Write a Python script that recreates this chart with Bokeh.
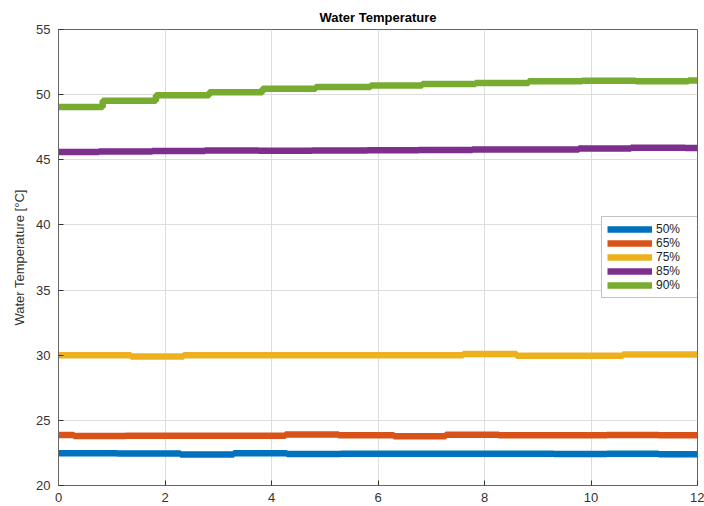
from bokeh.plotting import figure
from bokeh.models import Range1d, SingleIntervalTicker, Legend
from bokeh.embed import file_html
from bokeh.resources import INLINE

# --- data (step series: breakpoints and held values) ---
labels = ["50%", "65%", "75%", "85%", "90%"]
colors = ["#0072BD", "#D95319", "#EDB120", "#7E2F8E", "#77AC30"]

x50 = [0, 1.10, 2.29, 3.29, 4.29, 5.30, 6.30, 7.27, 8.27, 9.30, 10.30, 11.27, 12]
y50 = [22.47, 22.45, 22.38, 22.47, 22.41, 22.43, 22.44, 22.44, 22.44, 22.42, 22.44, 22.40, 22.40]

x65 = [0, 0.29, 1.26, 2.26, 4.26, 5.26, 6.30, 7.27, 8.27, 9.30, 10.30, 11.27, 12]
y65 = [23.88, 23.80, 23.82, 23.82, 23.92, 23.85, 23.78, 23.90, 23.86, 23.85, 23.88, 23.86, 23.86]

x75 = [0, 1.36, 2.35, 7.60, 8.60, 10.60, 12]
y75 = [30.00, 29.90, 30.00, 30.10, 29.95, 30.05, 30.05]

x85 = [0, 0.76, 1.76, 2.75, 3.76, 4.76, 5.80, 6.76, 7.77, 8.75, 9.77, 10.75, 11.77, 12]
y85 = [45.60, 45.63, 45.67, 45.71, 45.70, 45.72, 45.73, 45.76, 45.78, 45.78, 45.87, 45.93, 45.90, 45.90]

x90 = [0, 0.83, 1.83, 2.83, 3.83, 4.83, 5.86, 6.83, 7.83, 8.83, 9.83, 10.84, 11.83, 12]
y90 = [49.05, 49.54, 49.95, 50.18, 50.46, 50.58, 50.71, 50.81, 50.89, 51.02, 51.07, 51.03, 51.08, 51.08]

series = [(x50, y50), (x65, y65), (x75, y75), (x85, y85), (x90, y90)]

FONT = "Liberation Sans"

p = figure(width=704, height=506, output_backend="svg", toolbar_location=None,
           x_range=Range1d(0, 12), y_range=Range1d(20, 55),
           min_border_left=58, min_border_right=7, min_border_top=29, min_border_bottom=21)
p.title.text = "Water Temperature"
p.title.align = "center"
p.title.text_font = FONT
p.title.text_font_size = "13px"
p.title.text_font_style = "bold"
p.title.text_color = "#000000"
p.title.offset = 0

p.background_fill_color = "white"
p.border_fill_color = "white"
p.outline_line_color = "#666666"
p.outline_line_width = 1

renderers = []
for (xs, ys), c, lab in zip(series, colors, labels):
    r = p.step(xs, ys, mode="after", line_color=c, line_width=6.5)
    renderers.append((lab, [r]))

for ax in (p.xaxis[0], p.yaxis[0]):
    ax.axis_line_color = "#666666"
    ax.major_tick_line_color = "#333333"
    ax.major_tick_in = 5
    ax.major_tick_out = 0
    ax.minor_tick_line_color = None
    ax.major_label_text_font = FONT
    ax.major_label_text_font_size = "13px"
    ax.major_label_text_color = "#333333"

p.xaxis[0].ticker = SingleIntervalTicker(interval=2)
p.yaxis[0].ticker = SingleIntervalTicker(interval=5)
p.xaxis[0].major_label_standoff = 3
p.yaxis[0].major_label_standoff = 4
p.yaxis[0].axis_label = "Water Temperature [°C]"
p.yaxis[0].axis_label_text_font = FONT
p.yaxis[0].axis_label_text_font_size = "13px"
p.yaxis[0].axis_label_text_font_style = "normal"
p.yaxis[0].axis_label_text_color = "#333333"
p.yaxis[0].axis_label_standoff = 6

p.xgrid.ticker = SingleIntervalTicker(interval=2)
p.ygrid.ticker = SingleIntervalTicker(interval=5)
p.grid.grid_line_color = "#dddddd"
p.grid.grid_line_width = 1

legend = Legend(items=renderers, location=(543, 187))
legend.label_text_font = FONT
legend.label_text_font_size = "12px"
legend.label_text_color = "#222222"
legend.glyph_width = 45
legend.glyph_height = 10
legend.label_height = 10
legend.spacing = 0
legend.padding = 5
legend.margin = 0
legend.label_standoff = 4
legend.label_width = 40
legend.border_line_color = "#888888"
legend.border_line_width = 1
legend.background_fill_alpha = 1
p.add_layout(legend)

open("out.html", "w").write(file_html(p, INLINE))
